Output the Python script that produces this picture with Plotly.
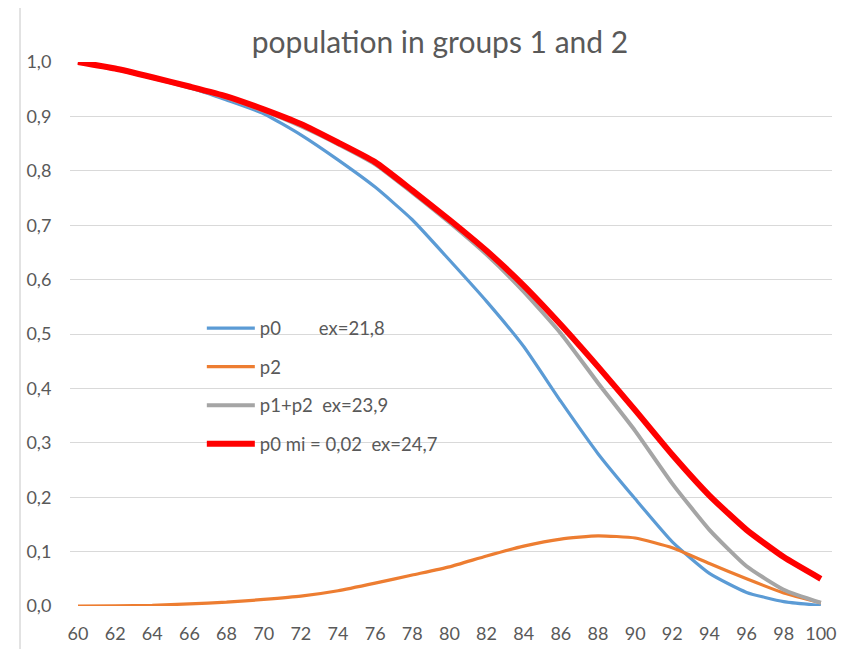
import plotly.graph_objects as go

ages = [60, 62, 64, 66, 68, 70, 72, 74, 76, 78, 80, 82, 84, 86, 88, 90, 92, 94, 96, 98, 100]
p0 = [1.0, 0.988, 0.971, 0.953, 0.93, 0.905, 0.866, 0.82, 0.77, 0.71, 0.636, 0.56, 0.477, 0.376, 0.28, 0.197, 0.118, 0.06, 0.025, 0.008, 0.001]
p2 = [0.0, 0.0005, 0.001, 0.004, 0.007, 0.012, 0.018, 0.028, 0.042, 0.057, 0.072, 0.092, 0.110, 0.123, 0.129, 0.125, 0.107, 0.078, 0.05, 0.024, 0.006]
p12 = [1.0, 0.987, 0.971, 0.953, 0.934, 0.91, 0.882, 0.849, 0.812, 0.76, 0.705, 0.646, 0.578, 0.501, 0.41, 0.322, 0.225, 0.14, 0.073, 0.03, 0.006]
p0mi = [1.0, 0.988, 0.972, 0.955, 0.937, 0.913, 0.886, 0.852, 0.816, 0.764, 0.71, 0.653, 0.589, 0.517, 0.44, 0.36, 0.278, 0.203, 0.14, 0.09, 0.05]

names = ["p0\u00a0\u00a0\u00a0\u00a0\u00a0\u00a0\u00a0\u00a0ex=21,8", "p2", "p1+p2\u00a0\u00a0ex=23,9", "p0 mi = 0,02\u00a0\u00a0ex=24,7"]
colors = ["#5B9BD5", "#ED7D31", "#A5A5A5", "#FF0000"]
widths = [3.2, 3.2, 4, 6]
series = [p0, p2, p12, p0mi]

fig = go.Figure()
for i, (ys, nm, c, w) in enumerate(zip(series, names, colors, widths)):
    fig.add_trace(go.Scatter(x=ages, y=ys, mode="lines", name=nm, legendgroup=str(i),
                             line=dict(color=c, width=w, shape="spline", smoothing=0.5)))

font_family = "Lato, Open Sans, sans-serif"
W, H = 840, 641
fig.update_layout(
    width=W, height=H,
    paper_bgcolor="white", plot_bgcolor="white",
    margin=dict(l=62, r=16, t=54, b=43, autoexpand=False),
    separators=", ",
    font=dict(family=font_family, color="#595959", size=17),
    title=dict(text="population in groups 1 and 2", x=(440 - 8) / W, xref="container",
               y=1 - (42 - 8) / H, yref="container",
               xanchor="center", yanchor="middle", font=dict(size=30, color="#595959", family=font_family)),
    showlegend=True,
    legend=dict(x=0.173, y=0.545, xanchor="left", yanchor="top", bgcolor="rgba(0,0,0,0)",
                font=dict(size=18.5, color="#595959", family=font_family), tracegroupgap=11.5, itemwidth=48,
                traceorder="grouped"),
    xaxis=dict(range=[59.57, 100.6], tickmode="array", tickvals=ages, ticktext=[str(a) for a in ages],
               showgrid=False, zeroline=False, showline=False, ticks="outside", ticklen=11,
               tickcolor="rgba(0,0,0,0)", tickfont=dict(size=18, color="#595959"), fixedrange=True,
               automargin=False),
    yaxis=dict(range=[0, 1.0], dtick=0.1, tick0=0, tickformat=".1f", showgrid=True, gridcolor="#D9D9D9",
               gridwidth=1, zeroline=False, showline=False, ticks="outside", ticklen=14,
               tickcolor="rgba(0,0,0,0)", tickfont=dict(size=18, color="#595959"), fixedrange=True,
               automargin=False),
    shapes=[dict(type="rect", xref="paper", yref="paper", x0=-0.0656, x1=1.05, y0=-0.2, y1=1.1048,
                 line=dict(color="#D9D9D9", width=1.5), fillcolor="rgba(0,0,0,0)", layer="below")],
)
fig.write_html("out.html")
